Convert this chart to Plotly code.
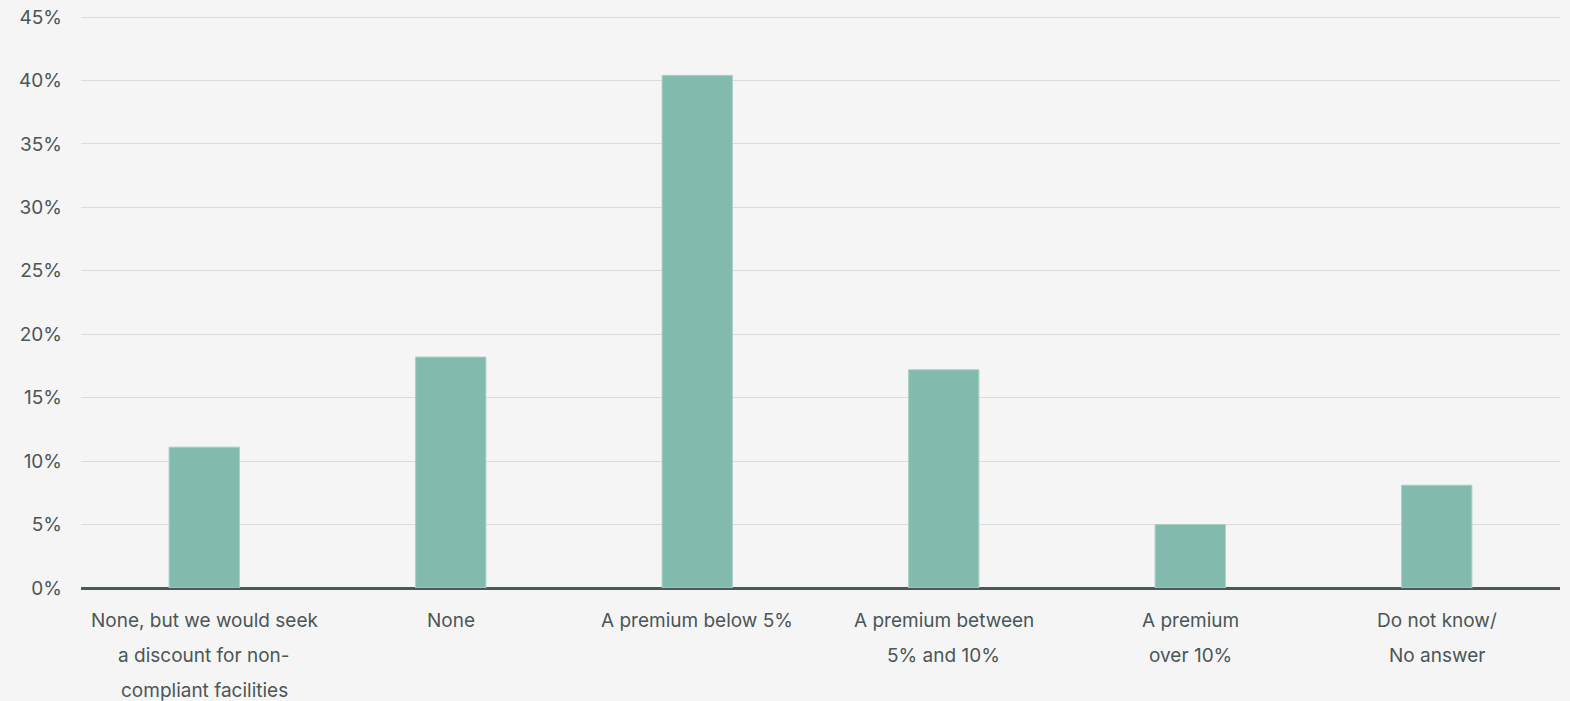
import plotly.graph_objects as go

categories = [
    "None, but we would seek<br>a discount for non-<br>compliant facilities",
    "None",
    "A premium below 5%",
    "A premium between<br>5% and 10%",
    "A premium<br>over 10%",
    "Do not know/<br>No answer",
]
values = [11.1, 18.2, 40.4, 17.2, 5.0, 8.1]
y_ticks = [0, 5, 10, 15, 20, 25, 30, 35, 40, 45]
y_tick_labels = [f"{v}%" for v in y_ticks]

text_color = "#4b5656"
bg = "#f5f5f5"
font_family = "Inter, Roboto, sans-serif"

fig = go.Figure()
fig.add_trace(go.Bar(
    x=list(range(len(categories))),
    y=values,
    marker=dict(color="#82bbad", line=dict(color="#a6cfc4", width=1)),
    width=0.285,
    hoverinfo="y",
))

annotations = []
for i, cat in enumerate(categories):
    for j, line in enumerate(cat.split("<br>")):
        annotations.append(dict(
            x=i, y=0, xref="x", yref="y", text=line, showarrow=False,
            yanchor="middle", xanchor="center", yshift=-(32 + 35 * j),
            font=dict(family=font_family, size=19, color=text_color),
        ))

fig.update_layout(
    width=1570, height=701,
    margin=dict(l=81, r=10, t=16, b=113, autoexpand=False),
    paper_bgcolor=bg, plot_bgcolor=bg,
    showlegend=False,
    annotations=annotations,
    font=dict(family=font_family, size=18, color=text_color),
    xaxis=dict(
        range=[-0.5, len(categories) - 0.5],
        showticklabels=False, showgrid=False, zeroline=False,
        showline=False, ticks="", automargin=False,
    ),
    yaxis=dict(
        range=[0, 45.08],
        tickvals=y_ticks, ticktext=y_tick_labels,
        showgrid=True, gridcolor="#d8dcdc", gridwidth=1,
        zeroline=True, zerolinecolor="#4a5859", zerolinewidth=2.5,
        showline=False, ticks="", ticklabelstandoff=18, automargin=False,
        tickfont=dict(family=font_family, size=19, color=text_color),
    ),
)

fig.write_html("out.html")
